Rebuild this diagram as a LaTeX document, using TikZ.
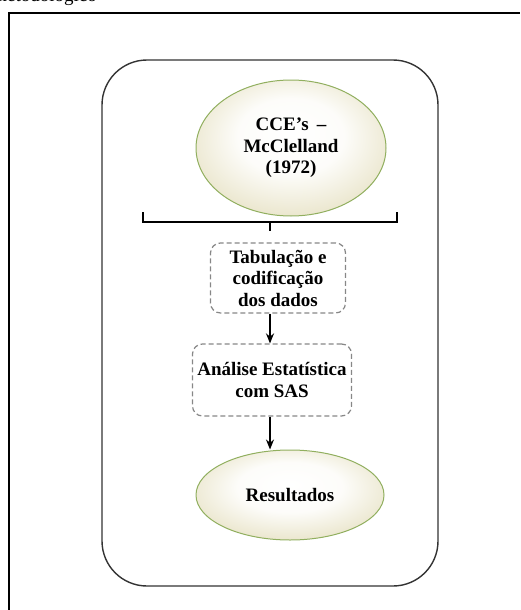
\documentclass[tikz,border=0pt]{standalone}
\usepackage{fontspec}
\setmainfont{Liberation Serif}
\usetikzlibrary{arrows.meta,shapes.geometric,calc}
\definecolor{cream}{RGB}{232,227,199}
\definecolor{eggborder}{RGB}{145,175,95}
\definecolor{dashgray}{RGB}{135,135,135}
\pgfdeclareradialshading{eggshade}{\pgfpoint{0bp}{6bp}}{color(0bp)=(white); color(14bp)=(white!90!cream); color(30bp)=(cream); color(50bp)=(cream!80!black)}
\tikzset{
  egg/.style={ellipse, draw=eggborder, line width=1pt, shading=eggshade,
    font=\bfseries\fontsize{19}{21.5}\selectfont, align=center, inner sep=0pt},
  stagebox/.style={draw=dashgray, dashed, dash pattern=on 5pt off 3pt, line width=1.2pt,
    rounded corners=10pt, font=\bfseries\fontsize{19}{21.5}\selectfont, align=center, inner sep=0pt},
  arr/.style={line width=2pt, -{Stealth[length=10pt,width=8pt]}},
  frameline/.style={line width=1.5pt, black},
}
\begin{document}
\begin{tikzpicture}[x=1pt,y=-1pt]
\useasboundingbox (0,0) rectangle (520,610);
\begin{scope}
  \clip (0,0) rectangle (520,610);
  \node[anchor=base east, inner sep=0pt, font=\fontsize{19}{22}\selectfont] (cap) at (97,2) {Desenho metodológico};
\end{scope}
% outer open frame
\coordinate (fa) at (9,610);
\coordinate (fb) at (9,13);
\coordinate (fc) at (520,13);
\draw[frameline] (fa) -- (fb) -- (fc);
% inner rounded frame
\draw[line width=1.4pt, black!80, rounded corners=45pt] (102,60) rectangle (438,586);
% nodes
\node[egg, minimum width=190pt, minimum height=136pt] (e1) at (291,148) {CCE’s \,–\\McClelland\\(1972)};
\node[stagebox, minimum width=135pt, minimum height=70pt] (b1) at (278,278) {Tabulação e\\codificação\\dos dados};
\node[stagebox, minimum width=159pt, minimum height=72pt] (b2) at (272,380) {Análise Estatística\\com SAS};
\node[egg, minimum width=188pt, minimum height=90pt] (e2) at (290,495) {Resultados};
% bracket
\coordinate (bl) at (143,212);
\coordinate (br) at (397,212);
\coordinate (bm) at (270,222);
\coordinate (bt) at (270,231);
\draw[line width=1.3pt] (bl) -- (bl |- bm) -- (br |- bm) -- (br);
\draw[line width=1.3pt] (bm) -- (bt);
% arrows
\draw[arr] (b1.south -| bm) -- (b2.north -| bm);
\draw[arr] (b2.south -| bm) -- (e2.north -| bm);
\end{tikzpicture}
\end{document}
